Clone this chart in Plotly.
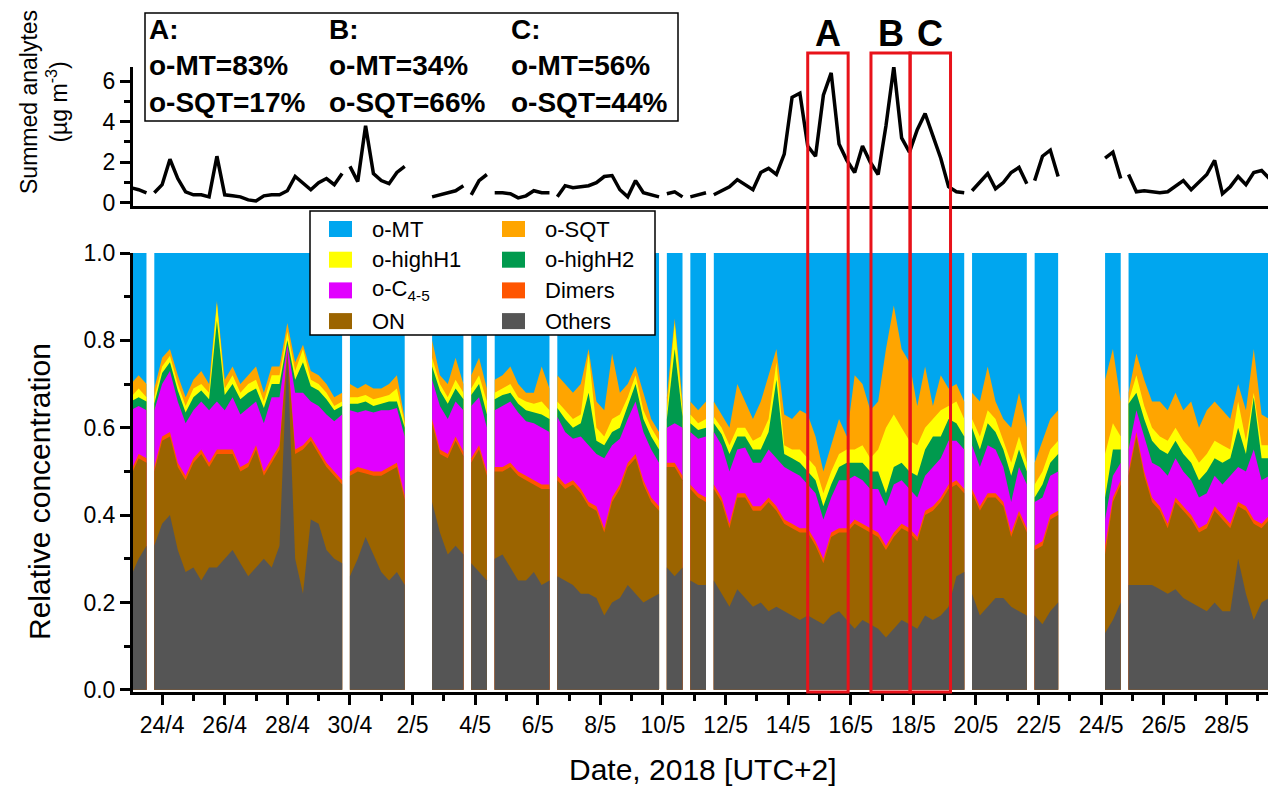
import pandas as pd
import plotly.graph_objects as go

# ---------------- data ----------------
# continuous measurement segments (6-hourly samples), gaps between them
seg_starts = ["2018-04-23 00:00", "2018-04-23 18:00", "2018-04-30 00:00", "2018-05-02 15:00",
              "2018-05-03 21:00", "2018-05-04 15:00", "2018-05-06 15:00", "2018-05-10 03:00",
              "2018-05-10 21:00", "2018-05-11 15:00", "2018-05-19 21:00", "2018-05-21 21:00",
              "2018-05-24 03:00", "2018-05-24 21:00"]
seg_counts = [3, 25, 8, 5, 3, 8, 14, 3, 3, 33, 8, 4, 3, 19]

# summed analytes (ug m-3)
summed = [0.75, 0.65, 0.5,
          0.5, 0.9, 2.15, 1.2, 0.55, 0.4, 0.4, 0.3, 2.3, 0.4, 0.35, 0.3, 0.15, 0.1, 0.35, 0.4, 0.4, 0.6, 1.3, 1.0, 0.65, 1.0, 1.2, 0.9, 1.45,
          1.8, 1.05, 3.8, 1.45, 1.1, 0.95, 1.5, 1.8,
          0.3, 0.4, 0.5, 0.6, 0.85,
          0.4, 1.1, 1.4,
          0.5, 0.5, 0.45, 0.25, 0.35, 0.6, 0.5, 0.5,
          0.3, 0.85, 0.75, 0.8, 0.85, 1.0, 1.3, 1.35, 0.65, 0.3, 1.1, 0.5, 0.4, 0.3,
          0.45, 0.55, 0.3,
          0.3, 0.4, 0.5,
          0.4, 0.6, 0.8, 1.15, 0.9, 0.65, 1.5, 1.7, 1.4, 2.4, 5.2, 5.4, 2.8, 2.3, 5.3, 6.4, 2.9, 2.1, 1.5, 2.8, 2.0, 1.4, 3.8, 6.7, 3.2, 2.5, 3.6, 4.4, 3.3, 2.2, 0.8, 0.55, 0.5,
          0.6, 1.0, 1.45, 0.7, 1.0, 1.5, 1.75, 0.95,
          1.1, 2.3, 2.6, 1.3,
          2.2, 2.5, 1.2,
          1.4, 0.55, 0.6, 0.55, 0.5, 0.55, 0.85, 1.1, 0.65, 1.0, 1.4, 2.1, 0.45, 0.8, 1.3, 0.9, 1.5, 1.6, 1.2]

# relative concentration: upper boundary of each stacked layer (cumulative fraction)
top_sqt = [0.70, 0.72, 0.70,
           0.69, 0.76, 0.78, 0.72, 0.67, 0.71, 0.73, 0.70, 0.89, 0.71, 0.74, 0.70, 0.72, 0.74, 0.68, 0.74, 0.74, 0.84, 0.75, 0.79, 0.73, 0.72, 0.70, 0.67, 0.68,
           0.70, 0.69, 0.70, 0.69, 0.69, 0.70, 0.72, 0.62,
           0.80, 0.72, 0.70, 0.76, 0.70,
           0.72, 0.76, 0.69,
           0.71, 0.72, 0.74, 0.70, 0.68, 0.68, 0.74, 0.69,
           0.72, 0.70, 0.68, 0.70, 0.78, 0.66, 0.64, 0.77, 0.68, 0.70, 0.74, 0.68, 0.62, 0.59,
           0.67, 0.85, 0.66,
           0.66, 0.64, 0.66,
           0.66, 0.63, 0.60, 0.70, 0.66, 0.62, 0.66, 0.72, 0.78, 0.63, 0.62, 0.64, 0.63, 0.58, 0.50, 0.56, 0.62, 0.58, 0.72, 0.70, 0.64, 0.66, 0.78, 0.88, 0.78, 0.75, 0.65, 0.74, 0.65, 0.72, 0.69, 0.70, 0.66,
           0.68, 0.66, 0.74, 0.66, 0.62, 0.60, 0.68, 0.60,
           0.52, 0.57, 0.62, 0.64,
           0.71, 0.78, 0.66,
           0.68, 0.77, 0.71, 0.66, 0.66, 0.64, 0.68, 0.64, 0.66, 0.60, 0.64, 0.66, 0.64, 0.62, 0.70, 0.64, 0.78, 0.63, 0.62]
top_h1 = [0.67, 0.69, 0.67,
          0.67, 0.74, 0.765, 0.70, 0.65, 0.69, 0.70, 0.68, 0.885, 0.69, 0.72, 0.68, 0.70, 0.71, 0.66, 0.72, 0.72, 0.82, 0.73, 0.78, 0.71, 0.70, 0.68, 0.65, 0.66,
          0.67, 0.67, 0.675, 0.665, 0.67, 0.675, 0.69, 0.61,
          0.76, 0.70, 0.67, 0.71, 0.68,
          0.69, 0.72, 0.66,
          0.68, 0.69, 0.70, 0.67, 0.66, 0.655, 0.66, 0.64,
          0.66, 0.64, 0.62, 0.63, 0.77, 0.60, 0.58, 0.62, 0.63, 0.67, 0.72, 0.64, 0.60, 0.57,
          0.64, 0.84, 0.64,
          0.63, 0.61, 0.62,
          0.625, 0.60, 0.56, 0.60, 0.60, 0.57, 0.58, 0.62, 0.75, 0.56, 0.55, 0.55, 0.53, 0.51, 0.45, 0.50, 0.54, 0.55, 0.55, 0.56, 0.53, 0.55, 0.60, 0.63, 0.60, 0.57, 0.56, 0.60, 0.62, 0.64, 0.65, 0.66, 0.62,
          0.62, 0.58, 0.64, 0.62, 0.57, 0.52, 0.58, 0.52,
          0.47, 0.50, 0.55, 0.57,
          0.54, 0.61, 0.58,
          0.66, 0.72, 0.65, 0.60, 0.58, 0.57, 0.60, 0.57, 0.55, 0.52, 0.54, 0.57, 0.56, 0.55, 0.66, 0.57, 0.68, 0.56, 0.56]
top_h2 = [0.66, 0.67, 0.66,
          0.655, 0.725, 0.75, 0.685, 0.635, 0.67, 0.685, 0.665, 0.845, 0.675, 0.70, 0.665, 0.68, 0.69, 0.645, 0.70, 0.70, 0.80, 0.71, 0.75, 0.695, 0.685, 0.665, 0.64, 0.65,
          0.655, 0.655, 0.66, 0.65, 0.655, 0.66, 0.66, 0.60,
          0.74, 0.685, 0.655, 0.69, 0.665,
          0.675, 0.70, 0.63,
          0.665, 0.675, 0.68, 0.655, 0.64, 0.635, 0.63, 0.62,
          0.645, 0.62, 0.60, 0.61, 0.68, 0.57, 0.56, 0.59, 0.60, 0.65, 0.70, 0.62, 0.58, 0.55,
          0.62, 0.78, 0.625,
          0.61, 0.595, 0.60,
          0.61, 0.585, 0.54, 0.58, 0.58, 0.55, 0.55, 0.59, 0.71, 0.54, 0.53, 0.52, 0.50, 0.48, 0.42, 0.47, 0.51, 0.52, 0.52, 0.52, 0.50, 0.50, 0.45, 0.51, 0.52, 0.50, 0.49, 0.55, 0.58, 0.58, 0.62, 0.61, 0.58,
          0.60, 0.55, 0.61, 0.59, 0.55, 0.49, 0.55, 0.50,
          0.44, 0.47, 0.52, 0.54,
          0.44, 0.55, 0.55,
          0.655, 0.68, 0.62, 0.57, 0.55, 0.54, 0.57, 0.54, 0.52, 0.48, 0.50, 0.53, 0.52, 0.53, 0.60, 0.54, 0.67, 0.53, 0.53]
top_c45 = [0.64, 0.65, 0.64,
           0.64, 0.70, 0.73, 0.66, 0.61, 0.64, 0.66, 0.64, 0.66, 0.64, 0.67, 0.63, 0.645, 0.66, 0.61, 0.67, 0.67, 0.79, 0.68, 0.68, 0.66, 0.65, 0.63, 0.615, 0.63,
           0.64, 0.635, 0.64, 0.635, 0.64, 0.64, 0.645, 0.58,
           0.71, 0.65, 0.62, 0.66, 0.64,
           0.65, 0.67, 0.60,
           0.64, 0.65, 0.66, 0.635, 0.615, 0.61, 0.60, 0.59,
           0.625, 0.59, 0.575, 0.58, 0.56, 0.54, 0.53, 0.56, 0.575, 0.62, 0.66, 0.59, 0.55, 0.52,
           0.60, 0.61, 0.60,
           0.59, 0.575, 0.58,
           0.59, 0.56, 0.50, 0.55, 0.555, 0.52, 0.52, 0.55, 0.53, 0.51, 0.50, 0.49, 0.47, 0.45, 0.39, 0.44, 0.48, 0.48, 0.49, 0.48, 0.46, 0.46, 0.42, 0.47, 0.48, 0.46, 0.44, 0.49, 0.51, 0.53, 0.57, 0.57, 0.55,
           0.56, 0.51, 0.56, 0.55, 0.51, 0.43, 0.51, 0.47,
           0.43, 0.44, 0.49, 0.50,
           0.39, 0.49, 0.52,
           0.55, 0.64, 0.58, 0.52, 0.51, 0.49, 0.53, 0.50, 0.48, 0.44, 0.45, 0.49, 0.47, 0.49, 0.51, 0.50, 0.55, 0.48, 0.49]
top_dim = [0.50, 0.54, 0.53,
           0.51, 0.58, 0.59, 0.52, 0.49, 0.53, 0.55, 0.52, 0.55, 0.55, 0.55, 0.51, 0.52, 0.56, 0.50, 0.53, 0.56, 0.78, 0.55, 0.56, 0.58, 0.55, 0.52, 0.50, 0.48,
           0.50, 0.51, 0.505, 0.50, 0.50, 0.51, 0.52, 0.445,
           0.62, 0.55, 0.54, 0.58, 0.545,
           0.53, 0.56, 0.50,
           0.51, 0.51, 0.52, 0.50, 0.49, 0.48, 0.47, 0.47,
           0.49, 0.47, 0.48, 0.46, 0.43, 0.42, 0.37, 0.44, 0.47, 0.52, 0.54, 0.48, 0.44, 0.42,
           0.52, 0.52, 0.49,
           0.47, 0.45, 0.44,
           0.47, 0.44, 0.38, 0.45, 0.45, 0.42, 0.42, 0.44, 0.42, 0.39, 0.38, 0.37, 0.37, 0.34, 0.30, 0.36, 0.37, 0.37, 0.39, 0.38, 0.37, 0.36, 0.33, 0.36, 0.38, 0.37, 0.35, 0.41, 0.42, 0.44, 0.47, 0.48, 0.46,
           0.46, 0.42, 0.45, 0.45, 0.43, 0.36, 0.41, 0.37,
           0.33, 0.34, 0.40, 0.41,
           0.33, 0.44, 0.48,
           0.50, 0.59, 0.50, 0.44, 0.42, 0.38, 0.44, 0.42, 0.40, 0.37, 0.38, 0.42, 0.40, 0.38, 0.43, 0.42, 0.39, 0.38, 0.40]
top_on = [0.49, 0.53, 0.52,
          0.50, 0.57, 0.58, 0.51, 0.48, 0.52, 0.54, 0.51, 0.54, 0.54, 0.54, 0.50, 0.51, 0.55, 0.49, 0.52, 0.55, 0.775, 0.54, 0.55, 0.57, 0.54, 0.51, 0.49, 0.47,
          0.49, 0.50, 0.495, 0.49, 0.49, 0.50, 0.51, 0.435,
          0.61, 0.54, 0.53, 0.57, 0.535,
          0.52, 0.55, 0.49,
          0.50, 0.50, 0.51, 0.49, 0.48, 0.47, 0.46, 0.46,
          0.48, 0.46, 0.47, 0.45, 0.42, 0.41, 0.36, 0.43, 0.46, 0.51, 0.53, 0.47, 0.43, 0.41,
          0.51, 0.51, 0.48,
          0.46, 0.44, 0.43,
          0.46, 0.43, 0.37, 0.44, 0.44, 0.41, 0.41, 0.43, 0.41, 0.38, 0.37, 0.36, 0.36, 0.33, 0.29, 0.35, 0.36, 0.36, 0.38, 0.37, 0.36, 0.35, 0.32, 0.35, 0.37, 0.36, 0.34, 0.40, 0.41, 0.43, 0.46, 0.47, 0.45,
          0.45, 0.41, 0.44, 0.44, 0.42, 0.35, 0.40, 0.36,
          0.32, 0.33, 0.39, 0.40,
          0.31, 0.43, 0.47,
          0.49, 0.58, 0.49, 0.43, 0.41, 0.37, 0.43, 0.41, 0.39, 0.36, 0.37, 0.41, 0.39, 0.37, 0.42, 0.41, 0.38, 0.37, 0.39]
top_oth = [0.26, 0.30, 0.33,
           0.33, 0.38, 0.40, 0.32, 0.27, 0.28, 0.25, 0.28, 0.28, 0.30, 0.32, 0.29, 0.26, 0.28, 0.30, 0.28, 0.33, 0.77, 0.30, 0.22, 0.39, 0.38, 0.32, 0.30, 0.29,
           0.26, 0.30, 0.35, 0.31, 0.27, 0.25, 0.27, 0.24,
           0.43, 0.36, 0.31, 0.33, 0.31,
           0.29, 0.27, 0.25,
           0.30, 0.31, 0.28, 0.25, 0.25, 0.27, 0.24, 0.25,
           0.26, 0.25, 0.24, 0.22, 0.22, 0.21, 0.17, 0.20, 0.21, 0.24, 0.22, 0.20, 0.21, 0.22,
           0.28, 0.26, 0.28,
           0.25, 0.24, 0.24,
           0.25, 0.22, 0.19, 0.23, 0.21, 0.19, 0.20, 0.18, 0.19, 0.18, 0.17, 0.16, 0.17, 0.16, 0.15, 0.17, 0.18, 0.16, 0.14, 0.16, 0.15, 0.14, 0.12, 0.14, 0.16, 0.15, 0.14, 0.17, 0.16, 0.17, 0.19, 0.26, 0.27,
           0.22, 0.17, 0.19, 0.21, 0.21, 0.19, 0.18, 0.17,
           0.17, 0.15, 0.18, 0.20,
           0.13, 0.16, 0.20,
           0.24, 0.24, 0.24, 0.24, 0.23, 0.22, 0.23, 0.21, 0.20, 0.19, 0.18, 0.20, 0.18, 0.18, 0.30, 0.22, 0.16, 0.20, 0.21]
N = sum(seg_counts)
top_mt = [1.0] * N  # relative concentrations sum to 1

layer_names = ["o-MT", "o-SQT", "o-highH1", "o-highH2", "o-C<sub>4-5</sub>", "Dimers", "ON", "Others"]
layer_colors = ["#00A6EF", "#FFA500", "#FFFF00", "#009A4E", "#E100FF", "#FF5500", "#9B6400", "#555555"]
layer_tops = [top_mt, top_sqt, top_h1, top_h2, top_c45, top_dim, top_on, top_oth]

# event windows (red boxes) and their composition
windows = [("A", "2018-05-14 15:00", "2018-05-15 22:00"),
           ("B", "2018-05-16 15:30", "2018-05-17 21:30"),
           ("C", "2018-05-17 21:30", "2018-05-19 04:30")]
window_mt = [83, 34, 56]
window_sqt = [17, 66, 44]

x_range = ["2018-04-23 01:40", "2018-05-29 07:55"]

for nm, arr in zip(["summed"] + layer_names, [summed] + layer_tops):
    assert len(arr) == N, (nm, len(arr), N)

# ---------------- build ----------------
seg_times = [pd.date_range(s, periods=n, freq="6h") for s, n in zip(seg_starts, seg_counts)]


def split(vals):
    out, i = [], 0
    for n in seg_counts:
        out.append(vals[i:i + n])
        i += n
    return out


FONT = "Liberation Sans, Arial, sans-serif"
fig = go.Figure()

# stacked relative composition (paint from top boundary down)
for name, color, tops in zip(layer_names, layer_colors, layer_tops):
    for xs, ys in zip(seg_times, split(tops)):
        fig.add_trace(go.Scatter(x=xs, y=ys, mode="lines", line=dict(width=0),
                                 fill="tozeroy", fillcolor=color, xaxis="x", yaxis="y",
                                 showlegend=False, hoverinfo="skip", name=name))

# summed analytes line with gaps
line_x, line_y = [], []
for i, (xs, ys) in enumerate(zip(seg_times, split(summed))):
    if i:
        line_x.append(xs[0] - pd.Timedelta(hours=3))
        line_y.append(None)
    line_x += list(xs)
    line_y += list(ys)
fig.add_trace(go.Scatter(x=line_x, y=line_y, mode="lines", connectgaps=False,
                         line=dict(color="black", width=3.5), xaxis="x2", yaxis="y2",
                         showlegend=False, name="Summed analytes"))

# pixel helpers for layout decoration
L, R, T, B = 133, 1268, 67, 692
def px(x):
    return (x - L) / (R - L)
def py(y):
    return (B - y) / (B - T)

shapes, annots = [], []

# red event boxes
for (lab, t0, t1) in windows:
    shapes.append(dict(type="rect", xref="x", yref="paper", x0=t0, x1=t1, y0=0, y1=py(53),
                       line=dict(color="#E8121A", width=3), layer="above"))
    mid = pd.Timestamp(t0) + (pd.Timestamp(t1) - pd.Timestamp(t0)) / 2
    annots.append(dict(x=mid, xref="x", y=py(33), yref="paper", text="<b>%s</b>" % lab,
                       showarrow=False, font=dict(size=36, color="black", family=FONT),
                       xanchor="center", yanchor="middle"))

# composition text box
shapes.append(dict(type="rect", xref="paper", yref="paper", x0=px(145), x1=px(678),
                   y0=py(121), y1=py(13), line=dict(color="black", width=1.5),
                   fillcolor="white", layer="above"))
for j, (lab, mt, sq) in enumerate(zip([w[0] for w in windows], window_mt, window_sqt)):
    annots.append(dict(x=px([147, 327, 509][j]), xref="paper", y=py(66), yref="paper",
                       text="<b>%s:<br>o-MT=%d%%<br>o-SQT=%d%%</b>" % (lab, mt, sq),
                       align="left", showarrow=False, xanchor="left", yanchor="middle",
                       font=dict(size=28, color="black", family=FONT)))

# legend (two columns)
shapes.append(dict(type="rect", xref="paper", yref="paper", x0=px(310), x1=px(655),
                   y0=py(335), y1=py(211), line=dict(color="black", width=1.5),
                   fillcolor="white", layer="above"))
order = [0, 2, 4, 6, 1, 3, 5, 7]
for k, idx in enumerate(order):
    col, row = k // 4, k % 4
    cy = 229 + row * 30.7
    sx = 329 if col == 0 else 502
    shapes.append(dict(type="rect", xref="paper", yref="paper", x0=px(sx), x1=px(sx + 23),
                       y0=py(cy + 8), y1=py(cy - 8), line=dict(width=0),
                       fillcolor=layer_colors[idx], layer="above"))
    annots.append(dict(x=px(sx + 41), xref="paper", y=py(cy), yref="paper",
                       text=layer_names[idx], showarrow=False, xanchor="left", yanchor="middle",
                       font=dict(size=22, color="black", family=FONT)))

# axis titles
annots.append(dict(x=px(44), xref="paper", y=py(102), yref="paper",
                   text="Summed analytes<br>(µg m<sup>-3</sup>)", textangle=-90, showarrow=False,
                   font=dict(size=23, color="black", family=FONT), xanchor="center", yanchor="middle"))
annots.append(dict(x=px(40), xref="paper", y=py(492), yref="paper",
                   text="Relative concentration", textangle=-90, showarrow=False,
                   font=dict(size=30, color="black", family=FONT), xanchor="center", yanchor="middle"))
annots.append(dict(x=px(703), xref="paper", y=py(769), yref="paper",
                   text="Date, 2018 [UTC+2]", showarrow=False,
                   font=dict(size=30, color="black", family=FONT), xanchor="center", yanchor="middle"))

DAY = 86400000
fig.update_layout(
    width=1268, height=786, autosize=False,
    margin=dict(l=L, r=0, t=T, b=786 - B),
    paper_bgcolor="white", plot_bgcolor="white",
    font=dict(family=FONT, color="black", size=23),
    showlegend=False,
    xaxis=dict(domain=[0, 1], anchor="y", type="date", range=x_range,
               tick0="2018-04-24", dtick=2 * DAY, tickformat="%-d/%-m",
               ticks="outside", ticklen=10, tickwidth=3, tickcolor="black",
               showline=True, linewidth=3, linecolor="black", showgrid=False, zeroline=False,
               minor=dict(dtick=DAY, tick0="2018-04-24", ticks="outside", ticklen=6,
                          tickwidth=3, tickcolor="black"),
               tickfont=dict(size=23)),
    yaxis=dict(domain=[0, py(253)], anchor="x", range=[-0.005, 1.0], dtick=0.2, tick0=0,
               tickformat=".1f", ticks="outside", ticklen=10, tickwidth=3, tickcolor="black",
               showline=True, linewidth=3, linecolor="black", showgrid=False, zeroline=False,
               minor=dict(dtick=0.1, ticks="outside", ticklen=6, tickwidth=3, tickcolor="black"),
               tickfont=dict(size=23)),
    xaxis2=dict(domain=[0, 1], anchor="y2", matches="x", type="date", showticklabels=False,
                ticks="", showline=True, linewidth=3, linecolor="black", showgrid=False,
                zeroline=False),
    yaxis2=dict(domain=[py(206), 1], anchor="x2", range=[-0.15, 6.69], dtick=2, tick0=0,
                ticks="outside", ticklen=10, tickwidth=3, tickcolor="black",
                showline=True, linewidth=3, linecolor="black", showgrid=False, zeroline=False,
                minor=dict(dtick=1, ticks="outside", ticklen=6, tickwidth=3, tickcolor="black"),
                tickfont=dict(size=23)),
    shapes=shapes, annotations=annots,
)

fig.write_html("out.html", config={"displayModeBar": False})
